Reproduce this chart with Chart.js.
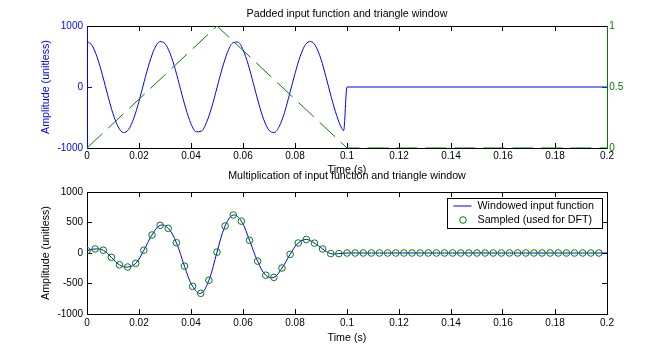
<!DOCTYPE html>
<html><head><meta charset="utf-8">
<script src="https://cdn.jsdelivr.net/npm/chart.js@4.4.1/dist/chart.umd.min.js"></script>
<style>
html,body{margin:0;padding:0;background:#fff;}
#wrap{position:relative;width:671px;height:352px;background:#fff;}
canvas{position:absolute;left:0;top:0;}
</style></head><body>
<div id="wrap"><canvas id="c1" width="671" height="352"></canvas><canvas id="c2" width="671" height="352"></canvas></div>
<script>
// ---------- data ----------
const padTimes = [0,0.002,0.004,0.006,0.008,0.01,0.012,0.014,0.016,0.018,0.02,0.022,0.024,0.026,0.028,0.03,0.032,0.034,0.036,0.038,0.04,0.042,0.044,0.046,0.048,0.05,0.052,0.054,0.056,0.058,0.06,0.062,0.064,0.066,0.068,0.07,0.072,0.074,0.076,0.078,0.08,0.082,0.084,0.086,0.088,0.09,0.092,0.094,0.096,0.098,0.0987,0.1,0.2];
const padValues = [750,677,477,187,-138,-438,-654,-746,-696,-512,-234,90,396,631,743,711,545,281,-40,-352,-603,-735,-724,-577,-326,-10,304,565,720,737,611,369,56,-263,-536,-708,-745,-641,-414,-100,220,503,694,747,666,456,151,-174,-464,-681,-716,0,0];
const winTimes = [0,0.05,0.1,0.2];
const winValues = [0,1,0,0];
const sampleTimes = [0,0.003125,0.00625,0.009375,0.0125,0.015625,0.01875,0.021875,0.025,0.028125,0.03125,0.034375,0.0375,0.040625,0.04375,0.046875,0.05,0.053125,0.05625,0.059375,0.0625,0.065625,0.06875,0.071875,0.075,0.078125,0.08125,0.084375,0.0875,0.090625,0.09375,0.096875,0.1,0.103125,0.10625,0.109375,0.1125,0.115625,0.11875,0.121875,0.125,0.128125,0.13125,0.134375,0.1375,0.140625,0.14375,0.146875,0.15,0.153125,0.15625,0.159375,0.1625,0.165625,0.16875,0.171875,0.175,0.178125,0.18125,0.184375,0.1875,0.190625,0.19375,0.196875];
const sampleValues = [38,66,46,-71,-194,-230,-169,46,295,454,404,169,-216,-547,-661,-446,14,443,623,522,208,-134,-364,-399,-246,-22,164,222,162,66,-10,-10,0,0,0,0,0,0,0,0,0,0,0,0,0,0,0,0,0,0,0,0,0,0,0,0,0,0,0,0,0,0,0,0];
const lineTailTimes = [0.2];
const lineTailValues = [0];
const xTicks = [0,0.02,0.04,0.06,0.08,0.1,0.12,0.14,0.16,0.18,0.2];
const xTickLabels = ['0','0.02','0.04','0.06','0.08','0.1','0.12','0.14','0.16','0.18','0.2'];
const ampTicksTop = [-1000,0,1000];
const ampTickLabelsTop = ['-1000','0','1000'];
const winTicks = [0,0.5,1];
const winTickLabels = ['0','0.5','1'];
const ampTicksBottom = [-1000,-500,0,500,1000];
const ampTickLabelsBottom = ['-1000','-500','0','500','1000'];

// ---------- styles ----------
const FONT = "'Liberation Sans', Arial, Helvetica, sans-serif";
const tickFont = {family: FONT, size: 10, weight: 'normal'};
const labelFont = {family: FONT, size: 10.7, weight: 'normal'};
const BLUE = '#0000ff', GREEN = '#008000', BLACK = '#000000';

const setTicks = values => s => { s.ticks = values.map(v => ({value: v})); };
const setWidth = w => s => { s.width = w; };
const setHeight = h => s => { s.height = h; };
const pts = (xs, ys) => xs.map((x, i) => ({x: x, y: ys[i]}));

function gridOpts(color) {
  return {drawOnChartArea: false, drawTicks: true, tickLength: -5, color: color, lineWidth: 1};
}
function xScale(position, showLabels, tickPad, titlePadBottom) {
  const o = {
    type: 'linear', position: position, min: 0, max: 0.2,
    afterBuildTicks: setTicks(xTicks),
    afterFit: setHeight(position === 'bottom' ? 30 : 0),
    ticks: {display: showLabels, color: BLACK, font: tickFont, padding: tickPad, maxRotation: 0, autoSkip: false,
            callback: (v, i) => xTickLabels[i]},
    grid: gridOpts(BLACK),
    border: {display: true, color: BLACK, width: 1}
  };
  if (showLabels) o.title = {display: true, text: 'Time (s)', color: BLACK, font: labelFont, padding: {top: 0, bottom: titlePadBottom}};
  return o;
}

const baseOpts = {
  responsive: false, animation: false, devicePixelRatio: 1, events: [],
};

// ---------- top chart ----------
new Chart(document.getElementById('c1'), {
  type: 'line',
  data: {datasets: [
    {label: 'Triangle window', data: pts(winTimes, winValues), xAxisID: 'x', yAxisID: 'y1',
     borderColor: GREEN, borderWidth: 1, borderDash: [21, 8], pointRadius: 0, tension: 0, fill: false},
    {label: 'Padded input function', data: pts(padTimes, padValues), xAxisID: 'x', yAxisID: 'y',
     borderColor: BLUE, borderWidth: 1, pointRadius: 0, cubicInterpolationMode: 'monotone', fill: false}
  ]},
  options: Object.assign({}, baseOpts, {
    layout: {padding: {left: 0, right: 0, top: 0, bottom: 174}},
    plugins: {
      legend: {display: false}, tooltip: {enabled: false},
      title: {display: true, fullSize: false, text: 'Padded input function and triangle window', color: BLACK, font: labelFont,
              padding: {top: 8, bottom: 5.16}}
    },
    scales: {
      x: xScale('bottom', true, 7, 2),
      x2: xScale('top', false, 0, 0),
      y: {type: 'linear', position: 'left', min: -1000, max: 1000,
          afterBuildTicks: setTicks(ampTicksTop), afterFit: setWidth(87),
          ticks: {color: BLUE, font: tickFont, padding: 9, callback: (v, i) => ampTickLabelsTop[i]},
          grid: gridOpts(BLUE), border: {display: true, color: BLUE, width: 1},
          title: {display: true, text: 'Amplitude (unitless)', color: BLUE, font: labelFont, padding: {top: 40, bottom: 0}}},
      y1: {type: 'linear', position: 'right', min: 0, max: 1,
          afterBuildTicks: setTicks(winTicks), afterFit: setWidth(64),
          ticks: {color: GREEN, font: tickFont, padding: 7.3, callback: (v, i) => winTickLabels[i]},
          grid: gridOpts(GREEN), border: {display: true, color: GREEN, width: 1}}
    }
  })
});

// ---------- bottom chart ----------
const boxLegend = {
  id: 'boxLegend',
  afterDraw(chart) {
    const ctx = chart.ctx, ca = chart.chartArea;
    const w = 155, h = 30;
    const x0 = Math.round(ca.right - 5 - w) + 0.5, y0 = Math.round(ca.top + 6) + 0.5;
    ctx.save();
    ctx.fillStyle = '#ffffff';
    ctx.fillRect(x0, y0, w, h);
    ctx.strokeStyle = BLACK; ctx.lineWidth = 1;
    ctx.strokeRect(x0, y0, w, h);
    const entries = chart.data.datasets.slice().reverse();
    entries.forEach((ds, k) => {
      const cy = y0 + 7.5 + k * 14;
      if (ds.showLine === false) {
        ctx.beginPath();
        ctx.arc(x0 + 15.5, cy, ds.pointRadius, 0, Math.PI * 2);
        ctx.strokeStyle = ds.pointBorderColor; ctx.lineWidth = ds.pointBorderWidth;
        ctx.stroke();
      } else {
        ctx.beginPath();
        ctx.moveTo(x0 + 6, cy); ctx.lineTo(x0 + 24, cy);
        ctx.strokeStyle = ds.borderColor; ctx.lineWidth = ds.borderWidth;
        ctx.stroke();
      }
      ctx.fillStyle = BLACK;
      ctx.font = labelFont.size + 'px ' + FONT;
      ctx.textBaseline = 'middle'; ctx.textAlign = 'left';
      ctx.fillText(ds.label, x0 + 30, cy);
    });
    ctx.restore();
  }
};

new Chart(document.getElementById('c2'), {
  type: 'line',
  data: {datasets: [
    {label: 'Sampled (used for DFT)', data: pts(sampleTimes, sampleValues), xAxisID: 'x', yAxisID: 'y',
     showLine: false, pointRadius: 3.3, pointBorderWidth: 1, pointBorderColor: GREEN,
     pointBackgroundColor: 'rgba(0,0,0,0)', borderColor: GREEN, pointStyle: 'circle'},
    {label: 'Windowed input function', data: pts(sampleTimes.concat(lineTailTimes), sampleValues.concat(lineTailValues)),
     xAxisID: 'x', yAxisID: 'y', borderColor: BLUE, borderWidth: 1, pointRadius: 0, tension: 0.4, fill: false}
  ]},
  options: Object.assign({}, baseOpts, {
    layout: {padding: {left: 0, right: 0, top: 165, bottom: 8}},
    plugins: {
      legend: {display: false}, tooltip: {enabled: false},
      title: {display: true, fullSize: false, text: 'Multiplication of input function and triangle window', color: BLACK, font: labelFont,
              padding: {top: 5.08, bottom: 9.08}}
    },
    scales: {
      x: xScale('bottom', true, 8, 0),
      x2: xScale('top', false, 0, 0),
      y: {type: 'linear', position: 'left', min: -1000, max: 1000,
          afterBuildTicks: setTicks(ampTicksBottom), afterFit: setWidth(87),
          ticks: {color: BLACK, font: tickFont, padding: 9, callback: (v, i) => ampTickLabelsBottom[i]},
          grid: gridOpts(BLACK), border: {display: true, color: BLACK, width: 1},
          title: {display: true, text: 'Amplitude (unitless)', color: BLACK, font: labelFont, padding: {top: 40, bottom: 0}}},
      y2: {type: 'linear', position: 'right', min: -1000, max: 1000,
          afterBuildTicks: setTicks(ampTicksBottom), afterFit: setWidth(64),
          ticks: {display: false},
          grid: gridOpts(BLACK), border: {display: true, color: BLACK, width: 1}}
    }
  }),
  plugins: [boxLegend]
});
</script>
</body></html>
